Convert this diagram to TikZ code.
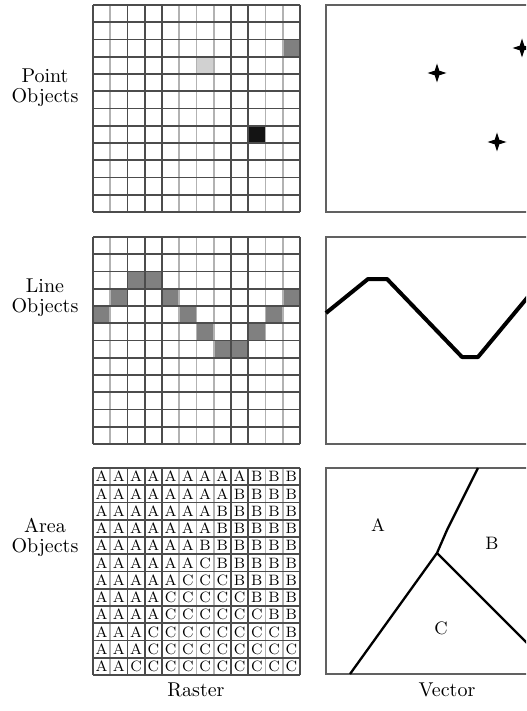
\documentclass[tikz,border=0pt]{standalone}
\usepackage{tikz}
\usetikzlibrary{positioning}
\def\cellsz{17.25}
\tikzset{
  % --- grid lines
  gridline/.style  = {draw=black!70, line width=0.9pt},
  gridfaint/.style = {draw=black!30, line width=0.8pt},
  frame/.style     = {draw=black!62, line width=0.8pt},
  % --- vector strokes
  vecline/.style   = {draw=black, line width=2pt, line join=round},
  edge/.style      = {draw=black, line width=1.15pt, line join=round},
  % --- texts
  rowlbl/.style    = {align=center, font=\normalsize, inner sep=0pt},
  collbl/.style    = {font=\normalsize, inner sep=0pt},
  celltxt/.style   = {font=\fontsize{7.5}{8}\selectfont, inner sep=0pt},
  regionlbl/.style = {font=\small, inner sep=0pt},
  spark/.pic = {\fill[black] (0,-9.5) -- (2.3,-2.3) -- (9.5,0) -- (2.3,2.3)
                 -- (0,9.5) -- (-2.3,2.3) -- (-9.5,0) -- (-2.3,-2.3) -- cycle;},
}
% raster grid, 12 x 12 cells, top left corner at (#1,#2)
\newcommand{\rastergrid}[2]{%
  \foreach \i in {1,5,6,7,10,11}
    \draw[gridfaint] (#1+\i*\cellsz,#2) -- ++(0,12*\cellsz);
  \foreach \j in {0,...,12}
    \draw[gridline] (#1,#2+\j*\cellsz) -- ++(12*\cellsz,0);
  \foreach \i in {0,2,3,4,8,9,12}
    \draw[gridline] (#1+\i*\cellsz,#2) -- ++(0,12*\cellsz);
}
% one filled raster cell: origin x, origin y, column, row, colour
\newcommand{\rastercell}[5]{%
  \fill[#5] (#1+#3*\cellsz,#2+#4*\cellsz) rectangle ++(\cellsz,\cellsz);
}

\begin{document}
\begin{tikzpicture}[x=0.5pt,y=-0.5pt]
  \useasboundingbox (0,0) rectangle (526,711);
  \clip (0,0) rectangle (526,711);

  % row labels
  \node[rowlbl] (lpoint) at (45,88)  {Point\\[-2pt]Objects};
  \node[rowlbl] (lline)  at (45,298) {Line\\[-2pt]Objects};
  \node[rowlbl] (larea)  at (45,537) {Area\\[-2pt]Objects};

  % point objects
  \rastercell{93}{5}{6}{3}{black!18}
  \rastercell{93}{5}{11}{2}{black!50}
  \rastercell{93}{5}{9}{7}{black!92}
  \rastergrid{93}{5}
  \draw[frame] (326,5) rectangle (545,212);
  \pic (p1) at (437,73)  {spark};
  \pic (p2) at (522,48)  {spark};
  \pic (p3) at (497,142) {spark};

  % line objects
  \foreach \c/\r in {2/2,3/2,1/3,4/3,11/3,0/4,5/4,10/4,6/5,9/5,7/6,8/6}
    \rastercell{93}{237}{\c}{\r}{black!50};
  \rastergrid{93}{237}
  \draw[frame] (326,237) rectangle (545,444);
  \coordinate (l1) at (326,313);
  \coordinate (l2) at (368,279);
  \coordinate (l3) at (387,279);
  \coordinate (l4) at (462,357);
  \coordinate (l5) at (478,357);
  \coordinate (l6) at (532,292);
  \draw[vecline] (l1) -- (l2) -- (l3) -- (l4) -- (l5) -- (l6);

  % area objects
  \foreach \r/\na/\nc in {0/9/0,1/8/0,2/7/0,3/7/0,4/6/0,5/6/1,
                          6/5/3,7/4/5,8/4/6,9/3/8,10/3/9,11/2/10}{
    \foreach \c in {0,...,11}{
      \pgfmathtruncatemacro\k{\c<\na ? 0 : (\c<\na+\nc ? 2 : 1)}
      \ifcase\k \def\ch{A}\or \def\ch{B}\or \def\ch{C}\fi
      \node[celltxt] (a-\r-\c) at (93+\c*\cellsz+0.5*\cellsz,468+\r*\cellsz+0.5*\cellsz) {\ch};
    }
  }
  \rastergrid{93}{468}
  \draw[frame] (326,468) rectangle (545,674);
  \coordinate (top)  at (478,468);
  \coordinate (bend) at (447,530);
  \coordinate (junc) at (437,553);
  \coordinate (low)  at (350,674);
  \coordinate (rgt)  at (532,648);
  \draw[edge] (top) -- (bend) -- (junc) -- (low);
  \draw[edge] (junc) -- (rgt);
  \node[regionlbl] (ra) at (378,525) {A};
  \node[regionlbl] (rb) at (492,543) {B};
  \node[regionlbl] (rc) at (441,628) {C};

  % column labels
  \node[collbl] (craster) at (196,690) {Raster};
  \node[collbl] (cvector) at (447,690) {Vector};
\end{tikzpicture}
\end{document}
